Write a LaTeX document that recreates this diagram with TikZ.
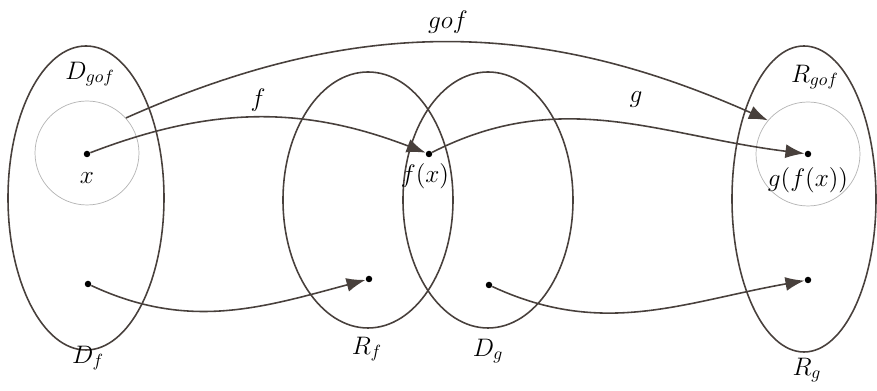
\documentclass[tikz,border=0pt]{standalone}
\usepackage{tikz}
\usetikzlibrary{arrows.meta}

\definecolor{ink}{RGB}{72,64,60}

\begin{document}
\begin{tikzpicture}[x=0.02cm,y=0.02cm,
  every node/.style={font=\Large},
  dot/.style={circle,fill=black,inner sep=0pt,minimum size=1.3mm},
  zone/.style={circle,draw=black!30,thin,inner sep=0pt,minimum size=2.08cm},
  set/.style={draw=ink,line width=0.9pt},
  map/.style={draw=ink,line width=0.9pt,-{Latex[length=3.8mm,width=2.8mm]}}]

\useasboundingbox (0,0) rectangle (877,391);

% sets
\draw[set] (86,193) ellipse [x radius=78, y radius=152];
\draw[set] (368,191) ellipse [x radius=85, y radius=128];
\draw[set] (488,191) ellipse [x radius=85, y radius=128];
\draw[set] (804,192) ellipse [x radius=72, y radius=153];
\node[zone] (zx) at (87,238) {};
\node[zone] (zg) at (808,237) {};

% points
\node[dot] (x) at (87,237) {};
\node[dot] (fx) at (429,237) {};
\node[dot] (gfx) at (808,237) {};
\node[dot] (df) at (88,107) {};
\node[dot] (rf) at (369,112) {};
\node[dot] (dg) at (489,106) {};
\node[dot] (rg) at (808,111) {};

% labels
\node (lx) at (87,213) {$x$};
\node (lfx) at (425,215) {$f(x)$};
\node (lgfx) at (808,211) {$g(f(x))$};
\node (ldgof) at (90,317) {$D_{gof}$};
\node (lrgof) at (815,314) {$R_{gof}$};
\node (ldf) at (88,33) {$D_f$};
\node (lrf) at (367,42) {$R_f$};
\node (ldg) at (488,40) {$D_g$};
\node (lrg) at (807,21) {$R_g$};
\node (lgof) at (448,369) {$gof$};
\node (lf) at (258,291) {$f$};
\node (lg) at (636,291) {$g$};

% maps
\draw[map] (zx.42) to[out=24,in=156] (zg.140);
\draw[map] (x) to[out=21,in=159] (fx);
\draw[map] (fx) to[out=27,in=173] (gfx);
\draw[map] (df) to[out=-25,in=195] (rf);
\draw[map] (dg) to[out=-25,in=190] (rg);
\end{tikzpicture}
\end{document}
